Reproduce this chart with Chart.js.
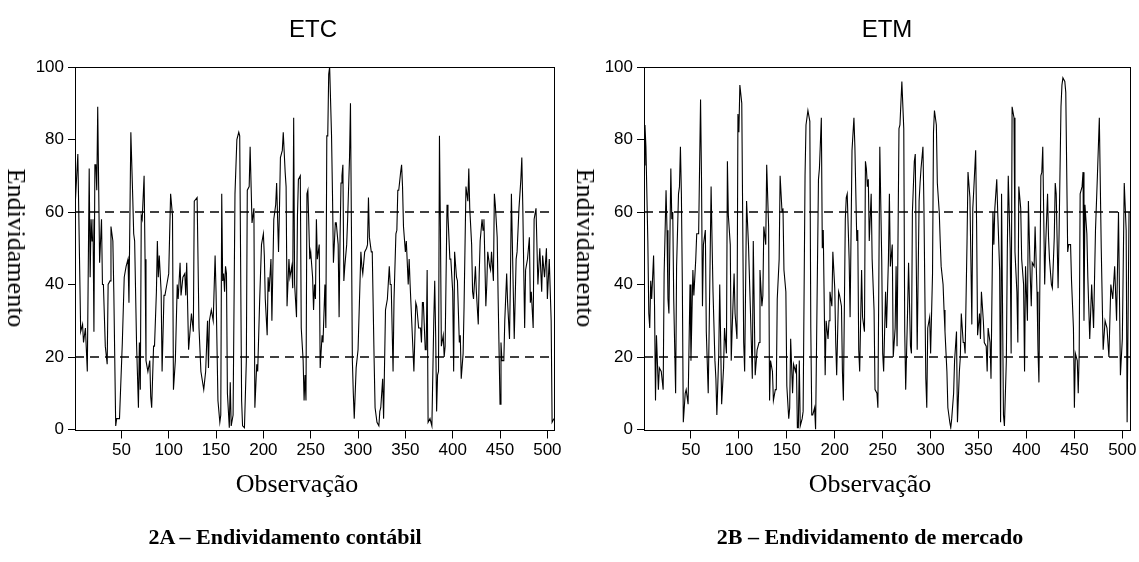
<!DOCTYPE html>
<html>
<head>
<meta charset="utf-8">
<script src="https://cdn.jsdelivr.net/npm/chart.js@4.4.1/dist/chart.umd.min.js"></script>
<style>
  body { margin:0; background:#fff; width:1139px; height:562px; position:relative; overflow:hidden; }
  canvas { position:absolute; top:0; }
  .t { position:absolute; transform:translate(-50%,-50%); white-space:nowrap; color:#000; }
  .title { font-family:"Liberation Sans", Arial, sans-serif; font-size:24px; }
  .axis { font-family:"Liberation Serif", "Times New Roman", serif; font-size:26px; }
  .ylab { transform:translate(-50%,-50%) rotate(90deg); }
  .cap { font-family:"Liberation Serif", "Times New Roman", serif; font-weight:bold; font-size:22px; }
</style>
</head>
<body>
<canvas id="etc" width="570" height="562" style="left:0"></canvas>
<canvas id="etm" width="569" height="562" style="left:570px"></canvas>

<div class="t title" style="left:313px;top:29px">ETC</div>
<div class="t title" style="left:887px;top:29px">ETM</div>
<div class="t axis ylab" style="left:16px;top:248px">Endividamento</div>
<div class="t axis ylab" style="left:585px;top:248px">Endividamento</div>
<div class="t axis" style="left:297px;top:484px">Observação</div>
<div class="t axis" style="left:870px;top:484px">Observação</div>
<div class="t cap" style="left:285px;top:537px">2A – Endividamento contábil</div>
<div class="t cap" style="left:870px;top:537px">2B – Endividamento de mercado</div>

<script>
// observação / valor (vértices da linha)
const etcObs = [1,4,7,9,10,12,14,16,17,18,19,20,21,22,23,24,25,26,27,29,30,31,33,35,36,38,39,41,42,44,45,48,51,53,55,57,58,60,62,63,64,66,68,69,70,71,72,74,75,76,78,80,81,82,84,85,87,88,89,90,92,93,95,96,98,100,102,104,105,107,109,110,112,113,115,117,118,119,121,
  124,126,127,130,132,134,137,139,141,142,143,145,147,149,150,152,154,155,156,157,158,159,160,161,162,164,165,166,168,170,172,174,175,177,178,180,182,183,185,186,188,190,191,193,194,196,198,200,201,202,204,205,206,208,209,211,213,214,216,217,218,220,221,223,224,225,227,228,230,231,232,233,235,236,237,239,240,242,243,244,245,
  246,247,249,250,252,253,254,255,256,257,259,260,262,263,265,266,267,268,269,270,272,273,274,276,277,279,280,281,282,283,284,285,286,288,289,291,292,293,294,295,296,298,300,301,303,304,305,307,309,310,311,312,314,315,317,318,320,322,323,324,326,327,329,331,333,334,335,337,338,340,341,342,343,345,346,347,348,350,351,353,354,355,357,359,361,362,364,366,
  367,368,369,371,372,373,374,376,377,378,380,381,382,383,384,385,386,387,388,390,391,392,394,395,397,398,400,401,402,404,405,407,408,409,411,412,414,415,416,417,418,420,421,422,424,425,427,428,429,431,432,433,435,436,437,439,440,441,443,444,445,447,448,450,451,452,454,455,457,458,460,461,462,464,465,467,468,470,472,473,474,476,477,479,481,482,483,485,486,488,
  490,492,494,495,497,499,500,502,504,505,507];
const etcVal = [61,76,27,29,24,28,16,72,42,58,52,58,27,73,73,66,89,67,46,58,40,40,23,18,40,41,56,52,38,1,3,3,24,42,45,47,35,82,64,54,52,24,6,24,11,59,58,70,47,19,16,19,9,6,23,23,38,52,42,48,38,16,37,37,40,43,65,59,11,19,40,36,46,37,42,43,37,46,22,
  32,27,63,64,28,16,11,16,30,17,30,33,30,48,38,8,2,4,65,41,43,38,45,43,10,0.5,13,1,4,65,80,82,81,8,1,0.5,19,66,67,78,57,61,6,18,16,35,51,54,48,36,26,42,38,47,30,58,62,68,49,61,75,77,82,71,67,34,47,42,45,39,86,40,31,59,69,70,28,19,8,15,8,
  65,66,47,49,42,33,40,36,58,47,51,17,26,24,40,28,81,81,98,100,81,65,46,57,57,51,31,53,68,70,73,41,45,51,58,75,90,56,19,10,3,17,22,22,49,45,43,49,50,51,64,53,49,49,19,6,2,1,5,6,14,3,33,36,45,40,40,16,36,54,55,66,66,71,73,67,56,49,52,40,47,40,28,16,35,34,28,28,
  24,35,35,22,22,44,2,3,2,1,30,41,26,5,15,16,81,56,23,26,20,23,62,59,47,47,38,16,49,42,41,24,26,14,21,34,67,65,63,72,61,51,38,36,45,38,29,43,52,58,55,58,34,40,49,45,44,49,41,65,62,53,36,7,24,19,19,30,43,35,25,42,65,38,25,47,49,61,69,75,62,28,44,47,53,35,38,28,58,61,
  40,50,38,48,42,50,36,47,30,2,3];

const etmObs = [1,2,3,5,6,7,8,9,11,12,13,14,16,17,19,21,22,24,25,26,27,29,30,31,32,34,35,37,38,39,40,41,42,44,45,47,49,50,52,53,55,56,58,60,61,62,63,65,66,68,69,71,72,73,75,76,77,79,80,81,82,84,85,87,88,89,91,92,93,95,96,98,99,100,101,103,
  105,106,108,110,112,114,115,117,119,121,122,124,125,126,128,129,131,132,133,135,136,138,139,140,142,143,145,146,147,149,150,152,153,154,156,157,159,160,161,162,163,164,166,167,169,170,172,174,175,176,177,179,180,181,183,184,186,187,188,190,191,193,194,195,197,198,200,201,202,204,205,207,208,209,211,212,213,215,216,218,220,221,223,
  224,225,226,228,229,231,232,233,234,235,236,238,239,241,242,244,245,247,249,250,251,253,254,256,257,258,260,261,263,264,265,267,268,270,272,273,274,276,277,279,280,281,283,284,285,286,288,289,290,292,293,295,296,297,299,300,302,303,304,306,307,309,310,311,313,314,315,317,318,320,321,322,324,325,327,328,330,331,332,334,335,336,338,339,341,342,343,
  344,345,347,348,349,351,352,353,355,356,358,359,360,362,363,365,366,367,369,370,372,373,374,376,377,379,380,381,383,384,385,387,388,390,391,392,394,395,397,398,399,401,402,404,405,406,408,409,411,412,413,415,416,417,419,420,422,423,424,426,427,429,430,431,433,434,436,437,438,440,441,443,444,446,447,449,450,451,453,454,455,456,458,459,460,461,463,
  464,466,468,470,472,474,476,478,480,482,484,486,488,490,492,494,496,498,500,502,504,505,507];
const etmVal = [73,84,78,52,32,28,41,36,48,34,8,26,11,17,16,11,43,66,55,36,32,72,58,60,36,10,45,65,67,78,65,40,2,10,11,7,40,19,44,37,47,54,54,91,69,34,51,55,27,10,28,67,52,38,19,14,4,21,40,24,7,17,28,21,74,59,51,19,28,43,32,25,87,82,95,90,
  24,16,63,51,33,14,52,15,22,24,44,34,37,56,51,73,56,8,19,16,8,11,11,36,47,70,60,61,44,38,12,3,6,25,10,18,16,18,0.5,0.5,19,1,3,5,70,84,88,85,28,4,4,6,0,23,69,72,86,50,55,15,30,25,30,38,34,49,39,24,15,38,37,34,16,8,58,64,65,47,31,77,86,78,52,
  55,22,16,44,31,27,74,72,67,69,52,65,47,33,11,10,6,78,47,21,16,38,28,47,65,45,51,20,28,45,23,83,84,96,83,27,11,33,46,23,21,60,74,76,47,22,63,68,72,78,62,14,6,28,31,21,43,82,88,84,68,60,52,45,40,33,27,16,6,2,0.5,3,10,19,27,2,16,20,32,24,24,21,52,71,64,47,29,
  61,66,77,56,26,32,25,38,30,24,23,16,28,24,14,60,51,61,69,60,44,2,65,4,1,19,49,70,50,21,89,86,49,38,24,67,61,47,40,16,45,30,63,42,34,46,45,56,38,22,13,70,71,78,40,51,65,53,47,40,39,53,68,65,39,54,89,95,97,96,93,49,51,51,41,28,6,21,19,10,21,65,67,71,30,62,54,
  42,25,40,28,55,70,86,50,22,30,28,20,40,36,45,30,60,15,25,68,55,2,60];

const xTicks = [50,100,150,200,250,300,350,400,450,500];
const yTicks = [0,20,40,60,80,100];
const refLevels = [20, 60];

const tickFont = { family: '"Liberation Sans", Arial, sans-serif', size: 17 };

const framePlugin = {
  id: 'frame',
  afterDatasetsDraw(chart) {
    const a = chart.chartArea, ctx = chart.ctx;
    ctx.save();
    ctx.strokeStyle = '#000';
    ctx.lineWidth = 1;
    ctx.strokeRect(Math.round(a.left) + 0.5, Math.round(a.top) + 0.5,
      Math.round(a.right - a.left), Math.round(a.bottom - a.top));
    ctx.restore();
  }
};

function makeChart(id, obs, vals, yWidth, padRight, xMin, xMax) {
  const series = obs.map((x, i) => ({ x: x, y: vals[i] }));
  const refSets = refLevels.map(lv => ({
    data: [{ x: xMin, y: lv }, { x: xMax, y: lv }],
    borderColor: '#000', borderWidth: 1.5, borderDash: [9, 6],
    pointRadius: 0, tension: 0
  }));
  return new Chart(document.getElementById(id), {
    type: 'line',
    data: {
      datasets: [{
        data: series, borderColor: '#000', borderWidth: 1.1,
        pointRadius: 0, tension: 0
      }].concat(refSets)
    },
    options: {
      responsive: false,
      animation: false,
      devicePixelRatio: 1,
      layout: { padding: { top: 67, left: 0, right: padRight, bottom: 0 } },
      plugins: { legend: { display: false }, tooltip: { enabled: false } },
      scales: {
        x: {
          type: 'linear', min: xMin, max: xMax,
          afterBuildTicks: s => { s.ticks = xTicks.map(v => ({ value: v })); },
          afterFit: s => { s.height = 132.5; },
          ticks: { color: '#000', font: tickFont, autoSkip: false, maxRotation: 0, padding: 2 },
          grid: { drawOnChartArea: false, drawTicks: true, tickLength: 9, color: '#000' },
          border: { display: false }
        },
        y: {
          min: 0, max: 100,
          afterBuildTicks: s => { s.ticks = yTicks.map(v => ({ value: v })); },
          afterFit: s => { s.width = yWidth; },
          ticks: { color: '#000', font: tickFont, padding: 4 },
          grid: { drawOnChartArea: false, drawTicks: true, tickLength: 7, color: '#000' },
          border: { display: false }
        }
      }
    },
    plugins: [framePlugin]
  });
}

makeChart('etc', etcObs, etcVal, 75, 16, 1, 507);
makeChart('etm', etmObs, etmVal, 74, 9, 1, 508);
</script>
</body>
</html>
